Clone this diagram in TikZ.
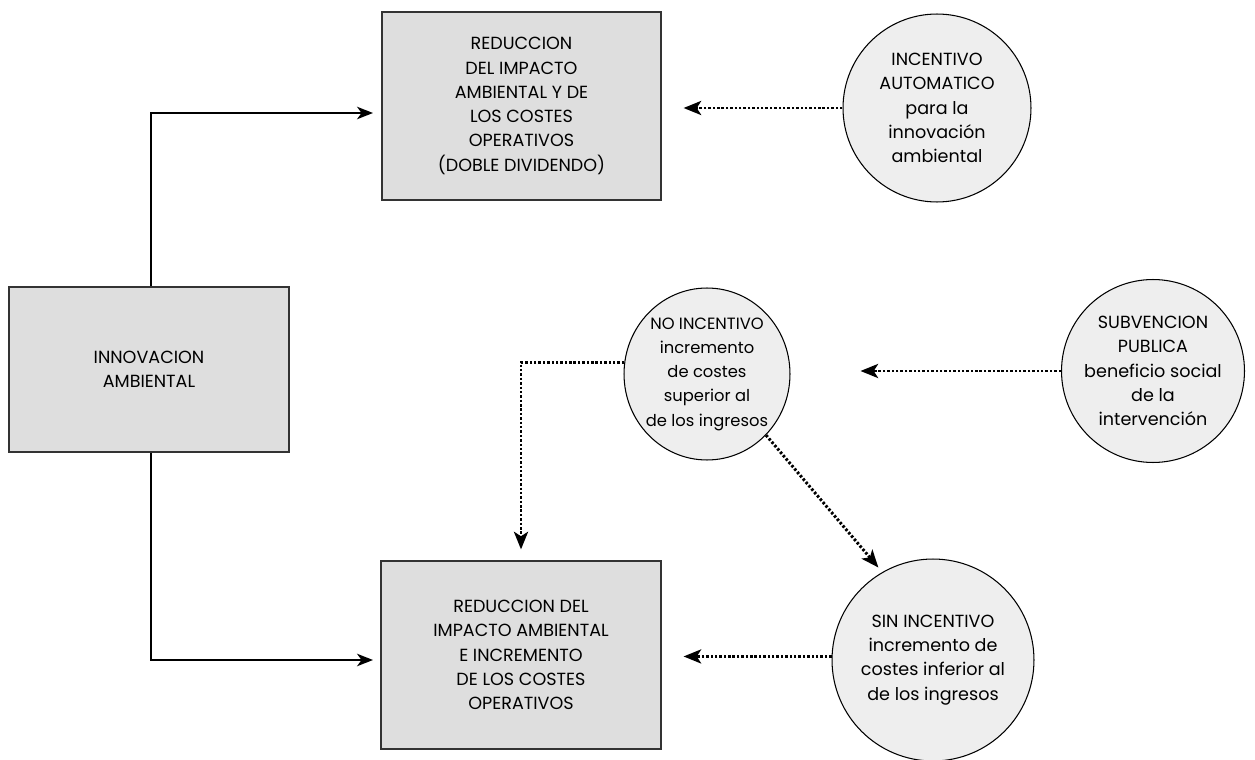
\documentclass[tikz,border=0pt]{standalone}
\usepackage{fontspec}
\setmainfont{Poppins}
\usetikzlibrary{arrows.meta,shapes.geometric,calc}
\definecolor{boxfill}{HTML}{DEDEDE}
\definecolor{circfill}{HTML}{EEEEEE}
\definecolor{boxline}{HTML}{333333}
\tikzset{
  txt/.style={align=center,font=\fontsize{10}{13.8}\selectfont,text=black},
  rbox/.style={txt,draw=boxline,line width=0.7pt,fill=boxfill,inner sep=0pt},
  circ/.style={txt,ellipse,draw=black,line width=0.6pt,fill=circfill,inner sep=-12pt},
  solidarrow/.style={draw=black,line width=1.6pt,-{Stealth[length=9pt,width=7pt,inset=2.5pt]}},
  dotarrow/.style={draw=black,line width=1.7pt,dash pattern=on 1.4pt off 1.1pt,
     -{Stealth[length=10pt,width=8pt,inset=2.5pt]}}
}
\begin{document}
\begin{tikzpicture}[x=0.02cm,y=-0.02cm]
\useasboundingbox (0,0) rectangle (1255,760);
% boxes
\node[rbox,minimum width=5.6cm,minimum height=3.3cm] (L) at (149,369.5) {INNOVACION\\AMBIENTAL};
\node[rbox,minimum width=5.58cm,minimum height=3.76cm] (T) at (521.5,106)
  {REDUCCION\\DEL IMPACTO\\AMBIENTAL Y DE\\LOS COSTES\\OPERATIVOS\\(DOBLE DIVIDENDO)};
\node[rbox,minimum width=5.6cm,minimum height=3.76cm] (B) at (521,655)
  {REDUCCION DEL\\IMPACTO AMBIENTAL\\E INCREMENTO\\DE LOS COSTES\\OPERATIVOS};
% circles
\node[circ,minimum width=3.76cm,minimum height=3.76cm] (I) at (937,108)
  {INCENTIVO\\AUTOMATICO\\para la\\innovación\\ambiental};
\node[circ,minimum width=3.32cm,minimum height=3.44cm,font=\fontsize{9.3}{13.8}\selectfont] (N) at (707,374)
  {NO INCENTIVO\\incremento\\de costes\\superior al\\de los ingresos};
\node[circ,minimum width=3.66cm,minimum height=3.66cm] (S) at (1153,371)
  {SUBVENCION\\PUBLICA\\beneficio social\\de la\\intervención};
\node[circ,minimum width=4.04cm,minimum height=4.04cm] (SI) at (933,660)
  {SIN INCENTIVO\\incremento de\\costes inferior al\\de los ingresos};
% arrow end points
\coordinate (tT) at (373,113);
\coordinate (tB) at (373,660);
% solid connectors
\draw[solidarrow] (L.north -| 151,0) |- (tT);
\draw[solidarrow] (L.south -| 151,0) |- (tB);
% dotted connectors
\draw[dotarrow,shorten >=0.44cm] (I.west) -- (I.west -| T.east);
\draw[dotarrow,shorten >=1.4cm] (S.west) -- (S.west -| N.east);
\draw[dotarrow,shorten >=0.22cm] (N.172) -| (B.north);
\draw[dotarrow,shorten >=0.12cm] (N.-46) -- (SI.120);
\draw[dotarrow,shorten >=0.44cm] (SI.178) -- (SI.178 -| B.east);
\end{tikzpicture}
\end{document}
